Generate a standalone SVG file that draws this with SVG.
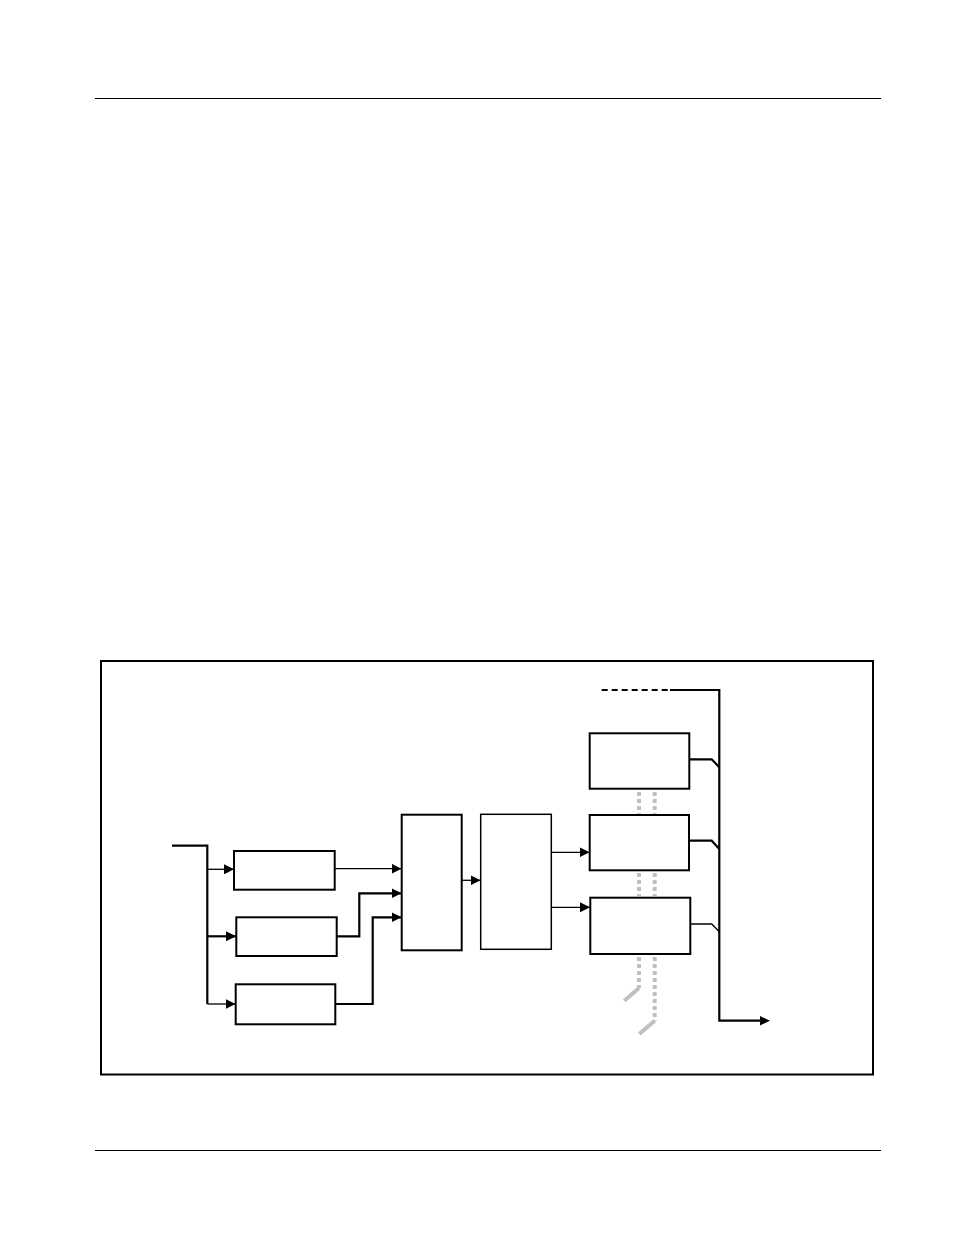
<svg xmlns="http://www.w3.org/2000/svg" width="954" height="1235" viewBox="0 0 954 1235">
<style>
.box{fill:#fff;stroke:#000;stroke-width:2}
.thin{fill:#fff;stroke:#000;stroke-width:1.5}
.w{fill:none;stroke:#000;stroke-width:1.3}
.wt{fill:none;stroke:#000;stroke-width:2.2}
.g{fill:none;stroke:#c0c0c0;stroke-width:4;stroke-dasharray:4 3}
.gs{fill:none;stroke:#c0c0c0;stroke-width:4}
</style>
<defs>
<marker id="ah" viewBox="0 0 10 10" refX="10" refY="5" markerWidth="10" markerHeight="10" markerUnits="userSpaceOnUse" orient="auto"><path d="M0,0L10,5L0,10z" fill="#000"/></marker>
</defs>
<rect width="954" height="1235" fill="#fff"/>
<line x1="95" y1="98.5" x2="881" y2="98.5" stroke="#000" stroke-width="1"/>
<line x1="95" y1="1150.5" x2="881" y2="1150.5" stroke="#000" stroke-width="1"/>
<rect id="frame" x="101" y="661" width="772" height="413.5" fill="none" stroke="#000" stroke-width="2"/>
<g id="connectors">
<path class="wt" d="M172,845.7H207.3V1004"/>
<path class="w" d="M207.3,869.3H234" marker-end="url(#ah)"/>
<path class="wt" d="M207.3,936.3H236" marker-end="url(#ah)"/>
<path class="w" d="M207.3,1004H235.5" marker-end="url(#ah)"/>
<path class="w" d="M334.7,868.7H401.5" marker-end="url(#ah)"/>
<path class="wt" d="M336.7,936.3H359.3V893.3H401.5" marker-end="url(#ah)"/>
<path class="wt" d="M335.3,1004H372.7V917.3H401.5" marker-end="url(#ah)"/>
<path class="w" d="M461.7,880.3H480.5" marker-end="url(#ah)"/>
<path class="w" d="M551.3,852.3H589.5" marker-end="url(#ah)"/>
<path class="w" d="M551.3,907.3H590" marker-end="url(#ah)"/>
<path class="wt" d="M601.7,690H670" stroke-dasharray="6 4"/>
<path class="wt" d="M670,690H719.3V1020.7H760"/>
<path d="M760,1016L770,1020.7L760,1025.4z" fill="#000"/>
<path class="wt" d="M689.3,759.3H711.7L719.3,767.3"/>
<path class="wt" d="M689,840.7H711.7L719.3,849"/>
<path class="w" d="M690.3,924H711.7L719.3,931.7"/>
<path class="g" d="M639,792V814M654.7,792V814"/>
<path class="g" d="M639,873V896M654.7,873V896"/>
<path class="g" d="M639,957V988"/>
<path class="gs" d="M639,988L624.3,1000.7"/>
<path class="g" d="M654.7,957V1020.7"/>
<path class="gs" d="M654.7,1020.7L639.3,1034"/>
</g>
<g id="n1"><rect class="box" x="234" y="851" width="100.7" height="38.7"/></g>
<g id="n2"><rect class="box" x="236.3" y="917.3" width="100.4" height="38.7"/></g>
<g id="n3"><rect class="box" x="235.7" y="984.3" width="99.6" height="40"/></g>
<g id="n4"><rect class="box" x="401.7" y="814.7" width="60" height="135.6"/></g>
<g id="n5"><rect class="thin" x="480.7" y="814.3" width="70.6" height="135"/></g>
<g id="n6"><rect class="box" x="589.7" y="733.3" width="99.6" height="55.4"/></g>
<g id="n7"><rect class="box" x="589.7" y="815" width="99.3" height="55.3"/></g>
<g id="n8"><rect class="box" x="590.3" y="897.7" width="100" height="56.3"/></g>
</svg>
